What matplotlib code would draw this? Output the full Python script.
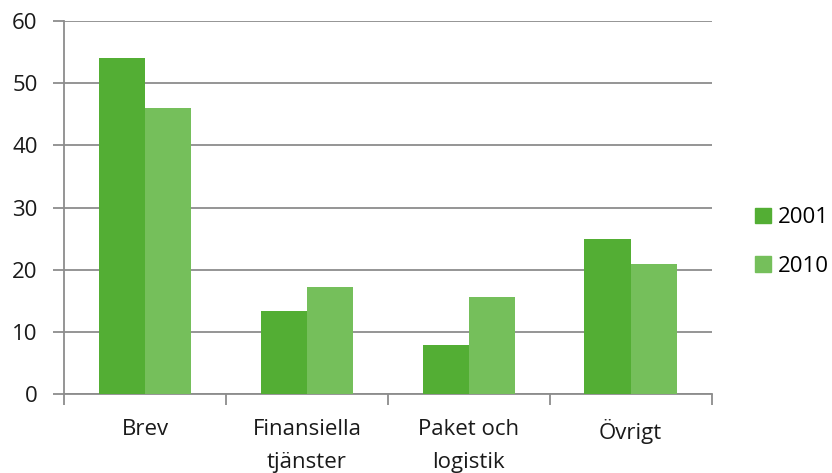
import numpy as np
import matplotlib.pyplot as plt
from matplotlib.patches import Patch

categories = ["Brev", "Finansiella\ntjänster", "Paket och\nlogistik", "Övrigt"]
years = ["2001", "2010"]
values_2001 = [54, 13.4, 7.9, 25]
values_2010 = [46, 17.25, 15.6, 20.9]

colors = ["#53AE34", "#75BF5B"]
grid_color = "#8C8C8C"

plt.rcParams["font.family"] = ["Open Sans", "DejaVu Sans"]

fig = plt.figure(figsize=(8.32, 4.73), dpi=100)
ax = fig.add_axes([64 / 832, 1 - 394.3 / 473, (711.7 - 64) / 832, (394.3 - 21) / 473])

x = np.arange(len(categories))
width = 0.286

ax.bar(x - width / 2, values_2001, width, color=colors[0], zorder=3)
ax.bar(x + width / 2, values_2010, width, color=colors[1], zorder=3)

ax.set_xlim(-0.5, len(categories) - 0.5)
ax.set_ylim(0, 60)
ax.set_yticks(range(0, 61, 10))
ax.yaxis.grid(True, color=grid_color, linewidth=1.3, zorder=0)

ax.set_xticks(x)
ax.set_xticklabels(categories, fontsize=16, linespacing=1.7, color="#1a1a1a")
ax.set_xticks(np.arange(-0.5, len(categories), 1), minor=True)
ax.tick_params(axis="x", which="major", length=0, pad=18)
ax.tick_params(axis="x", which="minor", length=8, width=1.3, color=grid_color, direction="out")
ax.tick_params(axis="y", length=8, width=1.3, color=grid_color, labelsize=16, pad=11,
               labelcolor="#1a1a1a")

for side in ["top", "right"]:
    ax.spines[side].set_visible(False)
for side in ["left", "bottom"]:
    ax.spines[side].set_color(grid_color)
    ax.spines[side].set_linewidth(1.3)

handles = [Patch(color=colors[0], label=years[0]), Patch(color=colors[1], label=years[1])]
fig.legend(handles=handles, loc="center left", bbox_to_anchor=(755 / 832, 1 - 242 / 473),
           frameon=False, fontsize=16, handlelength=0.7, handleheight=0.7,
           handletextpad=0.35, labelspacing=1.25, borderpad=0, borderaxespad=0)

fig.savefig("out.png", dpi=100)
